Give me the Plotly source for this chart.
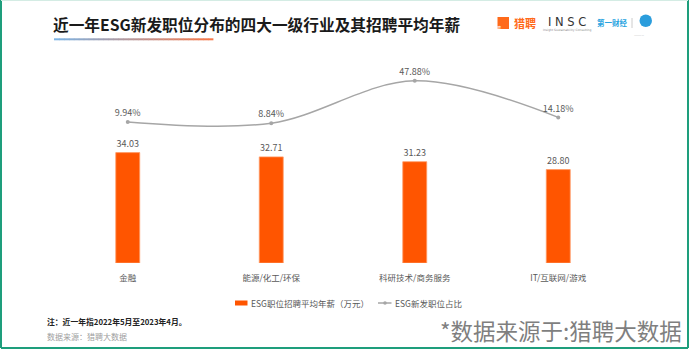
import plotly.graph_objects as go

# ---------------- data ----------------
categories = ["金融", "能源/化工/环保", "科研技术/商务服务", "IT/互联网/游戏"]
salary = [34.03, 32.71, 31.23, 28.80]          # ESG职位招聘平均年薪（万元）
share = [9.94, 8.84, 47.88, 14.18]             # ESG新发职位占比 (%)
salary_name = "ESG职位招聘平均年薪（万元）"
share_name = "ESG新发职位占比"
title_text = "近一年ESG新发职位分布的四大一级行业及其招聘平均年薪"
note_text = "注：近一年指2022年5月至2023年4月。"
source_text = "数据来源：猎聘大数据"
big_source_text = "*数据来源于:猎聘大数据"

# ---------------- geometry helpers ----------------
W, H = 690, 350
L, R, T, B = 56, 60, 60, 87
PW, PH = W - L - R, H - T - B


def px(x):
    return (x - L) / PW


def py(y):
    return (H - B - y) / PH


FONT = "Noto Sans CJK SC"
GRAY = "#595959"
ORANGE = "#ff5500"
LINEGRAY = "#a6a6a6"

fig = go.Figure()

fig.add_trace(go.Bar(
    x=categories, y=salary, name=salary_name, width=0.167,
    marker=dict(color=ORANGE, line=dict(color="#ff9a66", width=0.8)),
    text=[f"{v:.2f}" for v in salary], textposition="outside",
    textfont=dict(family=FONT, size=9, color=GRAY),
    cliponaxis=False, showlegend=False, hoverinfo="skip",
))

fig.add_trace(go.Scatter(
    x=categories, y=share, name=share_name, yaxis="y2",
    mode="lines+markers+text",
    line=dict(color=LINEGRAY, width=1.5, shape="spline", smoothing=1.0),
    marker=dict(size=4, color=LINEGRAY),
    text=[f"{v:.2f}%" for v in share], textposition="top center",
    textfont=dict(family=FONT, size=9, color=GRAY),
    cliponaxis=False, showlegend=False, hoverinfo="skip",
))

shapes = []
annotations = []

# border
BORDER = "#1e9e7c"
shapes += [
    dict(type="line", xref="paper", yref="paper", x0=px(1), x1=px(1), y0=py(0), y1=py(348), line=dict(color=BORDER, width=2)),
    dict(type="line", xref="paper", yref="paper", x0=px(688), x1=px(688), y0=py(0), y1=py(348), line=dict(color=BORDER, width=2)),
    dict(type="line", xref="paper", yref="paper", x0=px(1), x1=px(688), y0=py(348), y1=py(348), line=dict(color=BORDER, width=2)),
    dict(type="line", xref="paper", yref="paper", x0=px(1), x1=px(688), y0=py(0.5), y1=py(0.5), line=dict(color="#d4ece4", width=1)),
]

# title
annotations.append(dict(
    text=title_text, xref="paper", yref="paper", x=px(51), y=py(24),
    xanchor="left", yanchor="middle", showarrow=False,
    font=dict(family=FONT, size=15.7, color="#1a1a1a", weight=700),
))

# gradient underline
c0 = (125, 179, 227)
c1 = (245, 120, 74)
N = 32
x_start, x_end = 54, 213
for i in range(N):
    t = i / (N - 1)
    col = tuple(int(c0[k] + (c1[k] - c0[k]) * t) for k in range(3))
    xa = x_start + (x_end - x_start) * i / N
    xb = x_start + (x_end - x_start) * (i + 1) / N + 0.4
    shapes.append(dict(type="line", xref="paper", yref="paper",
                       x0=px(xa), x1=px(xb), y0=py(39.3), y1=py(39.3),
                       line=dict(color="rgb(%d,%d,%d)" % col, width=2)))

# logos (approximation)
shapes.append(dict(type="rect", xref="paper", yref="paper",
                   x0=px(497.5), x1=px(509), y0=py(17), y1=py(29),
                   fillcolor="#ff6a1a", line=dict(width=0)))
annotations.append(dict(text="猎聘", xref="paper", yref="paper", x=px(503.2), y=py(23),
                        showarrow=False, font=dict(family=FONT, size=4, color="white")))
annotations.append(dict(text="猎聘", xref="paper", yref="paper", x=px(512), y=py(23),
                        xanchor="left", yanchor="middle", showarrow=False,
                        font=dict(family=FONT, size=11, color="#ff6a1a", weight=700)))
annotations.append(dict(text="I N S C", xref="paper", yref="paper", x=px(567), y=py(22),
                        xanchor="center", yanchor="middle", showarrow=False,
                        font=dict(family="DejaVu Sans", size=11.5, color="#333333")))
annotations.append(dict(text="Insight Sustainability Consulting", xref="paper", yref="paper",
                        x=px(567), y=py(30), xanchor="center", yanchor="middle", showarrow=False,
                        font=dict(family="DejaVu Sans", size=3, color="#888888")))
annotations.append(dict(text="第一财经", xref="paper", yref="paper", x=px(612), y=py(23),
                        xanchor="center", yanchor="middle", showarrow=False,
                        font=dict(family=FONT, size=7.5, color="#29a3e0", weight=700)))
shapes.append(dict(type="line", xref="paper", yref="paper", x0=px(632), x1=px(632),
                   y0=py(18), y1=py(28), line=dict(color="#cccccc", width=1)))
shapes.append(dict(type="circle", xref="paper", yref="paper",
                   x0=px(639.5), x1=px(652), y0=py(14.5), y1=py(27),
                   fillcolor="#2b9ddc", line=dict(width=0)))
annotations.append(dict(text="————", xref="paper", yref="paper", x=px(646), y=py(30.5),
                        showarrow=False, font=dict(family=FONT, size=3, color="#999999")))

# custom legend
shapes.append(dict(type="rect", xref="paper", yref="paper",
                   x0=px(235), x1=px(247.5), y0=py(300.5), y1=py(305.5),
                   fillcolor=ORANGE, line=dict(width=0)))
annotations.append(dict(text=salary_name, xref="paper", yref="paper", x=px(249), y=py(303),
                        xanchor="left", yanchor="middle", showarrow=False,
                        font=dict(family=FONT, size=8.5, color=GRAY)))
shapes.append(dict(type="line", xref="paper", yref="paper", x0=px(378), x1=px(391.5),
                   y0=py(303), y1=py(303), line=dict(color=LINEGRAY, width=1.5)))
shapes.append(dict(type="circle", xref="paper", yref="paper", x0=px(383.2), x1=px(386.8),
                   y0=py(301.2), y1=py(304.8), fillcolor=LINEGRAY, line=dict(width=0)))
annotations.append(dict(text=share_name, xref="paper", yref="paper", x=px(392.5), y=py(303),
                        xanchor="left", yanchor="middle", showarrow=False,
                        font=dict(family=FONT, size=8.5, color=GRAY)))

# notes
annotations.append(dict(text=note_text, xref="paper", yref="paper", x=px(45), y=py(321.5),
                        xanchor="left", yanchor="middle", showarrow=False,
                        font=dict(family=FONT, size=7.8, color="#222222", weight=700)))
annotations.append(dict(text=source_text, xref="paper", yref="paper", x=px(45), y=py(336),
                        xanchor="left", yanchor="middle", showarrow=False,
                        font=dict(family=FONT, size=8, color="#a0a0a0")))
annotations.append(dict(text=big_source_text, xref="paper", yref="paper", x=px(684), y=py(330),
                        xanchor="right", yanchor="middle", showarrow=False,
                        font=dict(family=FONT, size=22.5, color="#7f7f7f")))

fig.update_layout(
    width=W, height=H,
    margin=dict(l=L, r=R, t=T, b=B, pad=0),
    paper_bgcolor="white", plot_bgcolor="white",
    showlegend=False,
    font=dict(family=FONT),
    xaxis=dict(range=[-0.5, 3.5], showgrid=False, showline=False, zeroline=False,
               ticks="", tickfont=dict(family=FONT, size=8.5, color=GRAY),
               ticklabelstandoff=8, fixedrange=True),
    yaxis=dict(range=[0, 62.58], visible=False, showgrid=False, fixedrange=True),
    yaxis2=dict(range=[-120.0, 67.1], overlaying="y", side="right", visible=False,
                showgrid=False, fixedrange=True),
    shapes=shapes,
    annotations=annotations,
)

fig.write_html("out.html")
